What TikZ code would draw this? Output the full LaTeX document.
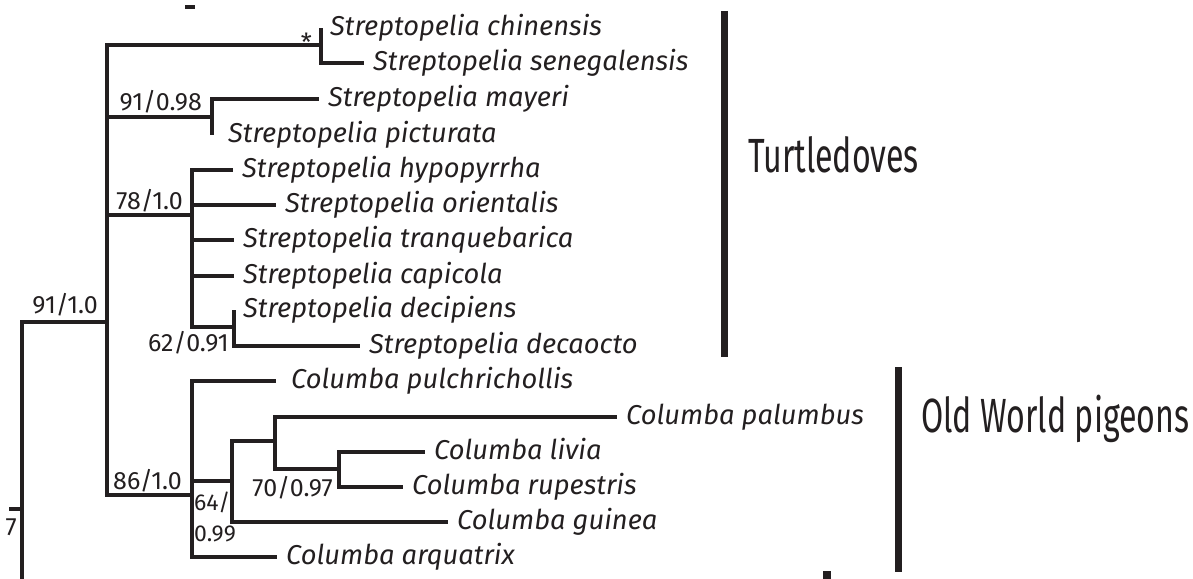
\documentclass[tikz,border=0pt]{standalone}
\usepackage{fontspec}
\setmainfont{Fira Sans}
\newfontfamily\cladefont[FakeStretch=0.67]{Fira Sans}
\usetikzlibrary{positioning}
\definecolor{ink}{RGB}{35,31,32}
\tikzset{
  branch/.style={draw=ink, line width=3.2pt},
  leaf/.style={anchor=west, inner xsep=9pt, inner ysep=0pt, text height=18pt, text depth=3.5pt, font=\fontsize{27.3}{32}\selectfont\itshape, text=ink},
  support/.style={anchor=base east, inner sep=0pt, font=\fontsize{25}{31}\selectfont, text=ink},
  cladebar/.style={draw=ink, line width=7.5pt},
  cladelabel/.style={anchor=base west, inner sep=0pt, font=\fontsize{48}{56}\selectfont\cladefont, text=ink}
}

\begin{document}
\begin{tikzpicture}[x=1pt, y=-1pt]
	\useasboundingbox (0,0) rectangle (1193,578);
	% Internal nodes
	\coordinate (stem) at (9,509);
	\coordinate (nR) at (22,509);
	\coordinate (rBot) at (22,590);
	\coordinate (nA) at (107,322);
	\coordinate (nCS) at (321,45);
	\coordinate (nMP) at (212,117);
	\coordinate (nT) at (192,215);
	\coordinate (nDD) at (234,327);
	\coordinate (nC) at (192,495);
	\coordinate (nG) at (232,481);
	\coordinate (nP) at (275,441);
	\coordinate (nLR) at (339,469);
	% Turtledoves
	\node[leaf] (chin) at (321,28) {Streptopelia chinensis};
	\node[leaf] (sene) at (364,63) {Streptopelia senegalensis};
	\node[leaf] (maye) at (319,99) {Streptopelia mayeri};
	\node[leaf, inner xsep=16pt] (pict) at (212,135) {Streptopelia picturata};
	\node[leaf] (hypo) at (233,170) {Streptopelia hypopyrrha};
	\node[leaf] (orie) at (276,205) {Streptopelia orientalis};
	\node[leaf] (tran) at (234,240) {Streptopelia tranquebarica};
	\node[leaf] (capi) at (234,276) {Streptopelia capicola};
	\node[leaf] (deci) at (234,310) {Streptopelia decipiens};
	\node[leaf] (deca) at (360,346) {Streptopelia decaocto};
	% Old World pigeons
	\node[leaf, inner xsep=15pt] (pulc) at (276,381) {Columba pulchrichollis};
	\node[leaf] (palu) at (617,417) {Columba palumbus};
	\node[leaf] (livi) at (425,452) {Columba livia};
	\node[leaf] (rupe) at (403,487) {Columba rupestris};
	\node[leaf] (guin) at (448,522) {Columba guinea};
	\node[leaf] (arqu) at (277,557) {Columba arquatrix};
	% Branches
	\draw[branch] (stem) -- (nR) -- (rBot);
	\draw[branch] (nR) |- (nA);
	\draw[branch] (nA) |- (nCS);
	\draw[branch] (nA) |- (nMP);
	\draw[branch] (nA) |- (nT);
	\draw[branch] (nA) |- (nC);
	\draw[branch] (nCS) |- (chin.west);
	\draw[branch] (nCS) |- (sene.west);
	\draw[branch] (nMP) |- (maye.west);
	\draw[branch] (nMP) -- (nMP |- pict.west);
	\foreach \t in {hypo,orie,tran,capi}
		\draw[branch] (nT) |- (\t.west);
	\draw[branch] (nT) |- (nDD);
	\draw[branch] (nDD) -- (nDD |- deci.west);
	\draw[branch] (nDD) |- (deca.west);
	\draw[branch] (nC) |- (pulc.west);
	\draw[branch] (nC) |- (arqu.west);
	\draw[branch] (nC) |- (nG);
	\draw[branch] (nG) |- (nP);
	\draw[branch] (nG) |- (guin.west);
	\draw[branch] (nP) |- (palu.west);
	\draw[branch] (nP) |- (nLR);
	\draw[branch] (nLR) |- (livi.west);
	\draw[branch] (nLR) |- (rupe.west);
	% Support values
	\node[support, xshift=-9pt, yshift=-7pt] (bCS) at (nCS) {*};
	\node[support, xshift=-10pt, yshift=7pt] (bMP) at (nMP) {91/0.98};
	\node[support, xshift=-9pt, yshift=6pt] (bT) at (nT) {78/1.0};
	\node[support, xshift=-9pt, yshift=9pt] (bA) at (nA) {91/1.0};
	\node[support, xshift=-5pt, yshift=-24pt] (bDD) at (nDD) {62/0.91};
	\node[support, xshift=-10pt, yshift=6pt] (bC) at (nC) {86/1.0};
	\node[support, anchor=north west, align=left, xshift=2pt, yshift=3pt, font=\fontsize{23}{31}\selectfont] (bG) at (nC) {64/\\0.99};
	\node[support, xshift=-6pt, yshift=-27pt] (bLR) at (nLR) {70/0.97};
	\node[support] (bR) at (17,535) {7};
	% Clades
	\draw[cladebar] (724.5,11) -- (724.5,357);
	\node[cladelabel] (td) at (748,172) {Turtledoves};
	\draw[cladebar] (898.5,367) -- (898.5,572);
	\node[cladelabel] (ow) at (921,432) {Old World pigeons};
	% Cut edges
	\draw[branch] (185,7) -- (195,7);
	\draw[cladebar] (827,571) -- (827,590);
\end{tikzpicture}
\end{document}
